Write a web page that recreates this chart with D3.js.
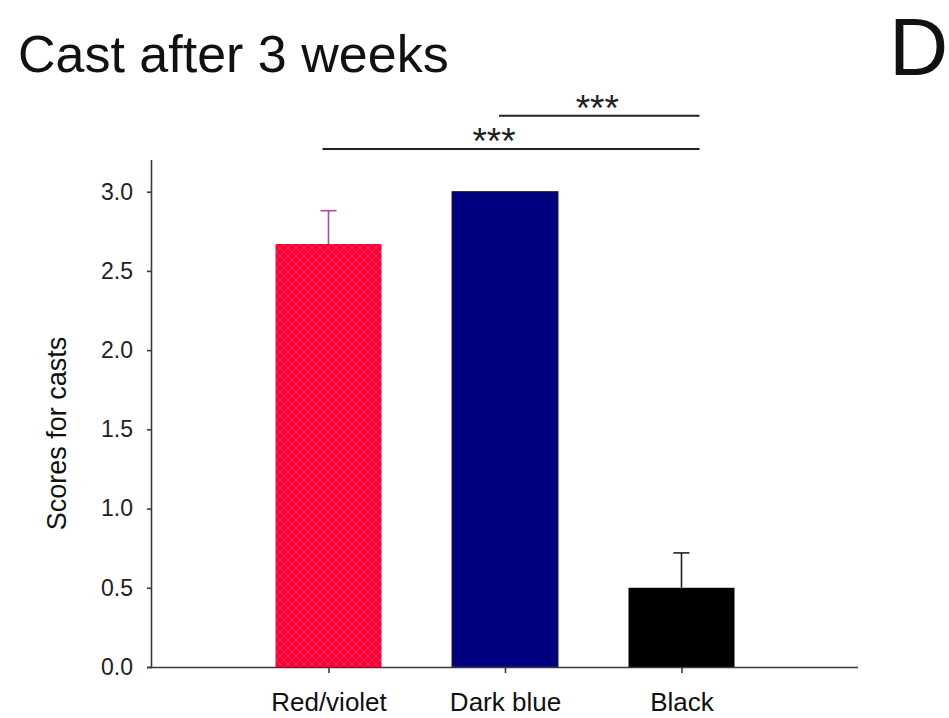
<!DOCTYPE html>
<html>
<head>
<meta charset="utf-8">
<script src="https://cdn.jsdelivr.net/npm/d3@7"></script>
<style>
  body { margin: 0; background: #fff; }
  svg { font-family: "Liberation Sans", Arial, sans-serif; }
</style>
</head>
<body>
<div id="chart"></div>
<script>
// data
const categories = ["Red/violet", "Dark blue", "Black"];
const means = [2.67, 3.0, 0.5];
const errors = [0.21, 0, 0.22];
const yTicks = [0, 0.5, 1.0, 1.5, 2.0, 2.5, 3.0];
// significance brackets: from category, to category, level (score units)
const sigFrom = ["Red/violet", "Dark blue"];
const sigTo = ["Black", "Black"];
const sigLevel = [3.27, 3.48];
const sigLabel = ["***", "***"];

const width = 949, height = 718;
const margin = {left: 152, right: 91, top: 160, bottom: 51};

const svg = d3.select("#chart").append("svg")
    .attr("width", width)
    .attr("height", height);

// hatch pattern for the red bar
const defs = svg.append("defs");
const pat = defs.append("pattern")
    .attr("id", "hatch")
    .attr("patternUnits", "userSpaceOnUse")
    .attr("width", 8).attr("height", 8);
pat.append("rect").attr("width", 8).attr("height", 8).attr("fill", "#ff0028");
pat.append("path")
    .attr("d", "M0,0L8,8M8,0L0,8")
    .attr("stroke", "#ff2a8a")
    .attr("stroke-width", 0.9);

const x = d3.scalePoint()
    .domain(categories)
    .range([margin.left, width - margin.right])
    .padding(1);

const y = d3.scaleLinear()
    .domain([0, 3.2])
    .range([height - margin.bottom, margin.top]);

const barW = 106;
const fills = ["url(#hatch)", "#000080", "#000000"];
const errColor = ["#a0509f", "#222", "#222"];

// bars
svg.append("g").selectAll("rect")
    .data(categories)
    .join("rect")
    .attr("x", d => x(d) - barW / 2)
    .attr("y", (d, i) => y(means[i]))
    .attr("width", barW)
    .attr("height", (d, i) => y(0) - y(means[i]))
    .attr("fill", (d, i) => fills[i])
    .attr("stroke", (d, i) => i === 1 ? "#1a1a40" : "none")
    .attr("stroke-width", 1);

// error bars (upper only)
const eb = svg.append("g").selectAll("g")
    .data(categories.filter((d, i) => errors[i] > 0))
    .join("g")
    .attr("stroke", d => errColor[categories.indexOf(d)])
    .attr("stroke-width", 1.6);
eb.append("line")
    .attr("x1", d => x(d)).attr("x2", d => x(d))
    .attr("y1", d => y(means[categories.indexOf(d)]))
    .attr("y2", d => { const i = categories.indexOf(d); return y(means[i] + errors[i]); });
eb.append("line")
    .attr("x1", d => x(d) - 8).attr("x2", d => x(d) + 8)
    .attr("y1", d => { const i = categories.indexOf(d); return y(means[i] + errors[i]); })
    .attr("y2", d => { const i = categories.indexOf(d); return y(means[i] + errors[i]); });

// y axis
const yAxis = svg.append("g")
    .attr("transform", `translate(${margin.left},0)`)
    .call(d3.axisLeft(y).tickValues(yTicks).tickFormat(d3.format(".1f")).tickSize(5).tickPadding(14))
    .call(g => g.select(".domain").attr("d", `M-0.5,${y(0)}V${margin.top}`));
yAxis.selectAll("path,line").attr("stroke", "#3a3a3a").attr("stroke-width", 1.6);
yAxis.selectAll("text").attr("font-size", 23).attr("fill", "#222")
    .attr("font-family", "'Liberation Sans', Arial, sans-serif");

// x axis
const xAxis = svg.append("g")
    .attr("transform", `translate(0,${y(0)})`)
    .call(d3.axisBottom(x).tickSize(6).tickPadding(20))
    .call(g => g.select(".domain").attr("d", `M${margin.left - 5},0.5H${width - margin.right}`));
xAxis.selectAll("path,line").attr("stroke", "#3a3a3a").attr("stroke-width", 1.6);
xAxis.selectAll("text").attr("font-size", 26).attr("fill", "#111")
    .attr("font-family", "'Liberation Sans', Arial, sans-serif");

// y axis title
svg.append("text")
    .attr("transform", `translate(66,${(y(0) + y(3.2)) / 2 + 20}) rotate(-90)`)
    .attr("text-anchor", "middle")
    .attr("font-size", 27)
    .attr("fill", "#111")
    .text("Scores for casts");

// significance brackets
const sig = svg.append("g").selectAll("g")
    .data(sigLevel)
    .join("g");
sig.append("line")
    .attr("x1", (d, i) => x(sigFrom[i]) - 6)
    .attr("x2", (d, i) => x(sigTo[i]) + 18)
    .attr("y1", d => y(d)).attr("y2", d => y(d))
    .attr("stroke", "#222").attr("stroke-width", 2);
sig.append("text")
    .attr("x", (d, i) => (x(sigFrom[i]) - 6 + x(sigTo[i]) + 18) / 2 + (i === 0 ? -17 : -2))
    .attr("y", d => y(d) + 5)
    .attr("text-anchor", "middle")
    .attr("font-size", 37)
    .attr("fill", "#222")
    .text((d, i) => sigLabel[i]);

// title and panel letter
svg.append("text")
    .attr("x", 18).attr("y", 72)
    .attr("font-size", 52)
    .attr("fill", "#111")
    .text("Cast after 3 weeks");
svg.append("text")
    .attr("x", 889).attr("y", 75)
    .attr("font-size", 82)
    .attr("fill", "#111")
    .text("D");
</script>
</body>
</html>
